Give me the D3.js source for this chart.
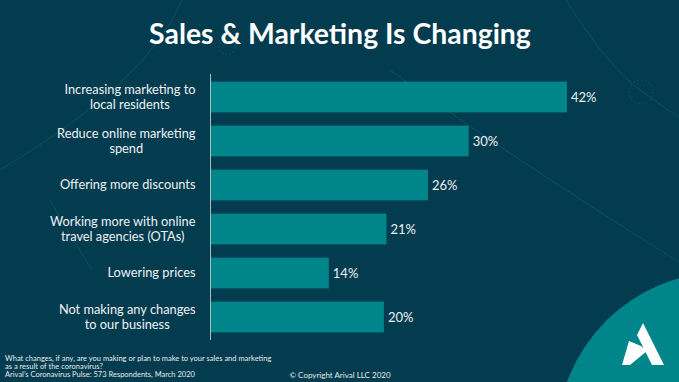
<!DOCTYPE html>
<html><head><meta charset="utf-8">
<script src="https://cdn.jsdelivr.net/npm/d3@7"></script>
<style>
html,body{margin:0;padding:0;background:#033b4f;overflow:hidden;}
svg{display:block;font-family:Lato,"Open Sans",sans-serif;}
</style></head>
<body>
<svg id="c" width="679" height="382"></svg>
<script>
const categories = [
  ["Increasing marketing to","local residents"],
  ["Reduce online marketing","spend"],
  ["Offering more discounts"],
  ["Working more with online","travel agencies (OTAs)"],
  ["Lowering prices"],
  ["Not making any changes","to our business"]
];
const values = [42, 30.4, 25.6, 20.7, 13.9, 20.4];
const valueLabels = ["42%","30%","26%","21%","14%","20%"];
const title = "Sales & Marketing Is Changing";
const footnotes = [
  "What changes, if any, are you making or plan to make to your sales and marketing",
  "as a result of the coronavirus?",
  "Arival\u2019s Coronavirus Pulse: 573 Respondents, March 2020"
];
const copyright = "\u00a9 Copyright Arival LLC 2020";

const W = 679, H = 382;
const svg = d3.select("#c");
const BG = "#033b4f", TEAL = "#00868a";

svg.append("rect").attr("width", W).attr("height", H).attr("fill", BG);

// faint background decorations
const deco = svg.append("g").attr("fill","none").attr("stroke","#2c7f8c").attr("stroke-opacity",0.4).attr("stroke-width",0.8);
deco.append("path").attr("d","M566,0 Q600,55 631,83 Q660,105 679,117");
deco.append("circle").attr("cx",641).attr("cy",92).attr("r",12).attr("stroke-dasharray","2,2");
deco.append("path").attr("d","M390,70 Q500,150 679,262");
deco.append("path").attr("d","M182,0 Q150,80 0,170");
deco.append("circle").attr("cx",227).attr("cy",47).attr("r",8).attr("stroke-dasharray","2,2");
deco.append("path").attr("d","M50,200 Q70,235 92,270");

// big teal circle bottom right
svg.append("circle").attr("cx",724).attr("cy",439).attr("r",167).attr("fill",TEAL);

// logo
const logo = svg.append("g").attr("fill","#ffffff");
logo.append("path").attr("d","M643,323 L664,365 L652,365 L637,335 Z");
logo.append("path").attr("d","M629,341 L641,346 L647,351 L630,365 L622,365 Z");

// title
const t = svg.append("text").attr("x", 340).attr("y", 44).attr("text-anchor","middle")
  .attr("fill","#ffffff").attr("font-weight",700).attr("font-size",29).text(title);
const tw = t.node().getComputedTextLength();
t.attr("font-size", 29 * 382 / tw);

// scales
const x = d3.scaleLinear().domain([0, 42]).range([211, 567]);
const y = d3.scaleBand().domain(d3.range(values.length)).range([75, 339]).paddingInner(0.3).paddingOuter(0.15);

svg.append("g").selectAll("rect").data(values).join("rect")
  .attr("x", x(0)).attr("y", (d,i)=>y(i)).attr("width", d=>x(d)-x(0)).attr("height", y.bandwidth())
  .attr("fill", TEAL);

// axis line
svg.append("line").attr("x1",210.5).attr("x2",210.5).attr("y1",74).attr("y2",340)
  .attr("stroke","#a9bcc3").attr("stroke-width",1);

// value labels
svg.append("g").selectAll("text").data(values).join("text")
  .attr("x", d=>x(d)+4).attr("y",(d,i)=>y(i)+y.bandwidth()/2).attr("dy","0.35em")
  .attr("fill","#eef2f3").attr("font-size",13).text((d,i)=>valueLabels[i]);

// category labels
const LH = 14.5, FS = 12.8, RIGHT = 195.5;
categories.forEach((lines,i)=>{
  const g = svg.append("g");
  const cy = y(i)+y.bandwidth()/2;
  const texts = lines.map((ln,j)=> g.append("text")
      .attr("y", cy + (j-(lines.length-1)/2)*LH).attr("dy","0.35em")
      .attr("fill","#eef2f3").attr("font-size",FS).attr("text-anchor","middle").text(ln));
  const maxW = d3.max(texts, tt=>tt.node().getComputedTextLength());
  texts.forEach(tt=>tt.attr("x", RIGHT - maxW/2));
});

// footnotes
footnotes.forEach((f,i)=>{
  svg.append("text").attr("x",5).attr("y",360.5 + i*8.2).attr("fill","#e6ecee")
    .attr("font-size",7.5).text(f);
});
svg.append("text").attr("x",340).attr("y",378).attr("text-anchor","middle")
  .attr("fill","#e6ecee").attr("font-size",8).text(copyright);
</script>
</body></html>
